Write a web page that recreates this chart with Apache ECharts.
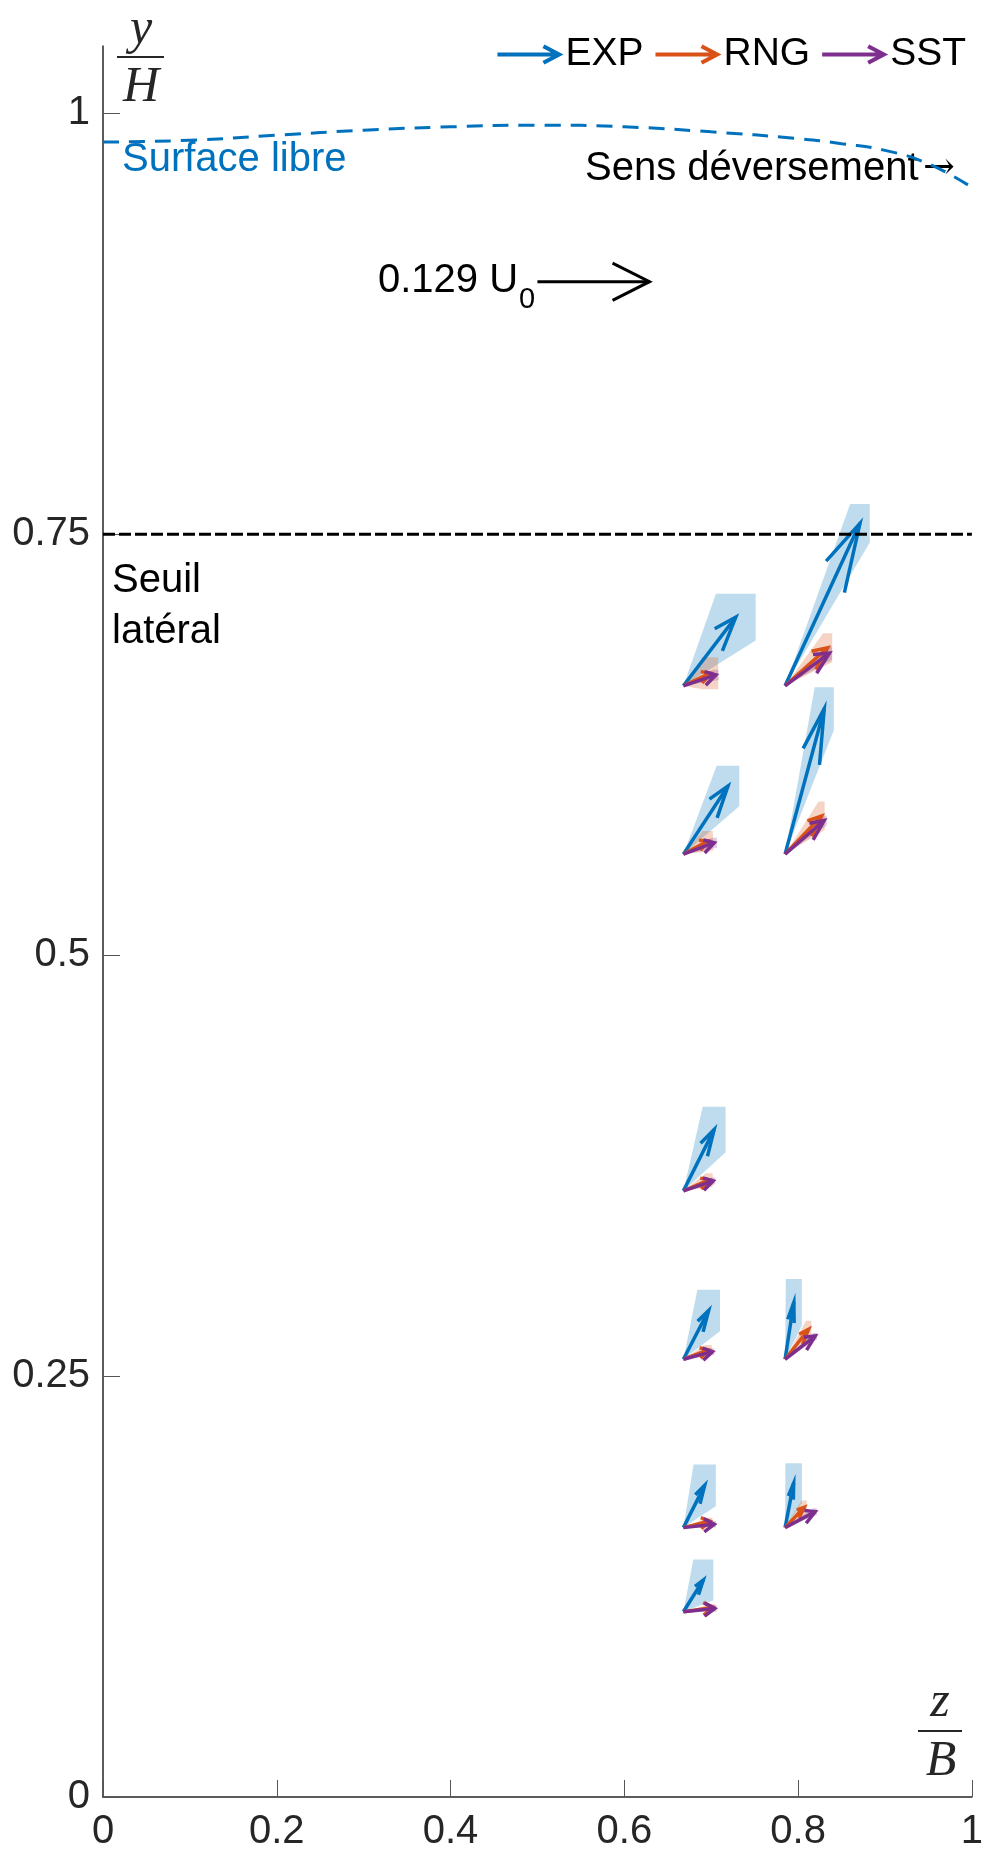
<!DOCTYPE html>
<html><head><meta charset="utf-8">
<script src="https://cdn.jsdelivr.net/npm/echarts@6.0.0/dist/echarts.min.js"></script>
<style>html,body{margin:0;padding:0;background:#fff}#c{width:986px;height:1854px}</style>
</head><body><div id="c"></div>
<script>
// Measurement points (z/B, y/H)
const posZ = [0.668, 0.785, 0.668, 0.785, 0.668, 0.668, 0.785, 0.668, 0.785, 0.668];
const posY = [0.66, 0.66, 0.56, 0.56, 0.36, 0.26, 0.26, 0.16, 0.16, 0.11];

// EXP vectors (components in z/B and y/H units) and uncertainty half-widths
const expU  = [0.0603, 0.0862, 0.0513, 0.0451, 0.0354, 0.0291, 0.0101, 0.0245, 0.0099, 0.0229];
const expV  = [0.0408, 0.0965, 0.0405, 0.0864, 0.0365, 0.0290, 0.0338, 0.0251, 0.0264, 0.0189];
const expEz = [0.0229, 0.0113, 0.0130, 0.0110, 0.0132, 0.0130, 0.0092, 0.0128, 0.0095, 0.0115];
const expEy = [0.0139, 0.0114, 0.0120, 0.0128, 0.0135, 0.0123, 0.0139, 0.0124, 0.0119, 0.0121];

// RNG vectors
const rngU  = [0.0310, 0.0490, 0.0280, 0.0420, 0.0297, 0.0286, 0.0271, 0.0304, 0.0221, 0.0343];
const rngV  = [0.0075, 0.0226, 0.0078, 0.0227, 0.0065, 0.0055, 0.0178, 0.0039, 0.0121, 0.0026];
const rngEz = [0.0090, 0.0052, 0.0060, 0.0035, 0.0040, 0.0040, 0.0030, 0.0030, 0.0030, 0.0020];
const rngEy = [0.0095, 0.0086, 0.0060, 0.0085, 0.0040, 0.0030, 0.0050, 0.0020, 0.0040, 0.0020];

// SST vectors
const sstU  = [0.0374, 0.0511, 0.0355, 0.0450, 0.0343, 0.0335, 0.0347, 0.0355, 0.0347, 0.0361];
const sstV  = [0.0065, 0.0194, 0.0068, 0.0200, 0.0060, 0.0045, 0.0138, 0.0020, 0.0095, 0.0020];
const sstEz = [0.0030, 0.0030, 0.0030, 0.0030, 0.0020, 0.0020, 0.0020, 0.0020, 0.0020, 0.0020];
const sstEy = [0.0030, 0.0040, 0.0030, 0.0030, 0.0020, 0.0020, 0.0020, 0.0020, 0.0020, 0.0020];

// Free surface profile
const surfZ = [0, 0.1, 0.2, 0.3, 0.4, 0.5, 0.6, 0.7, 0.8, 0.85, 0.9, 0.95, 1.0];
const surfY = [0.983, 0.984, 0.987, 0.990, 0.992, 0.993, 0.992, 0.989, 0.985, 0.982, 0.978, 0.970, 0.956];

// Side weir level
const weirZ = [0, 1];
const weirY = [0.75, 0.75];

// Reference vector 0.129 U0
const refVec = [[0.5, 0.9, 0.129, 0]];

const xTicks = [0, 0.2, 0.4, 0.6, 0.8, 1];
const yTicks = [0, 0.25, 0.5, 0.75, 1];

const C_EXP = '#0072BD', C_RNG = '#D95319', C_SST = '#7E2F8E';

function rows(u, v, ez, ey) {
  return posZ.map((z, i) => [z, posY[i], u[i], v[i], ez ? ez[i] : 0, ey ? ey[i] : 0]);
}

function arrowRender(color, w, beta) {
  return function (params, api) {
    const z = api.value(0), y = api.value(1), u = api.value(2), v = api.value(3);
    const a = 0.33, b = beta;
    const p0 = api.coord([z, y]);
    const p1 = api.coord([z + u, y + v]);
    const h1 = api.coord([z + u - a * (u + b * v), y + v - a * (v - b * u)]);
    const h2 = api.coord([z + u - a * (u - b * v), y + v - a * (v + b * u)]);
    return {
      type: 'group', children: [
        { type: 'polyline', shape: { points: [p0, p1] }, style: { stroke: color, lineWidth: w, fill: null } },
        { type: 'polyline', shape: { points: [h1, p1, h2] }, style: { stroke: color, lineWidth: w, fill: null, lineJoin: 'miter' } }
      ]
    };
  };
}

function hull(pts) {
  const p = pts.slice().sort((a, b) => a[0] - b[0] || a[1] - b[1]);
  const cross = (o, a, b) => (a[0] - o[0]) * (b[1] - o[1]) - (a[1] - o[1]) * (b[0] - o[0]);
  const lo = [], up = [];
  for (const q of p) { while (lo.length >= 2 && cross(lo[lo.length - 2], lo[lo.length - 1], q) <= 0) lo.pop(); lo.push(q); }
  for (let i = p.length - 1; i >= 0; i--) { const q = p[i]; while (up.length >= 2 && cross(up[up.length - 2], up[up.length - 1], q) <= 0) up.pop(); up.push(q); }
  up.pop(); lo.pop();
  return lo.concat(up);
}

function zoneRender(fill) {
  return function (params, api) {
    const z = api.value(0), y = api.value(1), u = api.value(2), v = api.value(3), ez = api.value(4), ey = api.value(5);
    const pts = [
      api.coord([z, y]),
      api.coord([z + u - ez, y + v - ey]),
      api.coord([z + u + ez, y + v - ey]),
      api.coord([z + u + ez, y + v + ey]),
      api.coord([z + u - ez, y + v + ey])
    ];
    return { type: 'polygon', shape: { points: hull(pts) }, style: { fill: fill, stroke: null } };
  };
}

const FONT = "'Liberation Sans', Arial, Helvetica, sans-serif";
const SERIF = "'Liberation Serif', 'DejaVu Serif', serif";

const arrowIcon = 'path://M0,8 L53.6,8 L45,3.5 L47,0 L66,10 L47,20 L45,16.5 L53.6,12 L0,12 Z';

const chart = echarts.init(document.getElementById('c'), null, { renderer: 'canvas' });
chart.setOption({
  animation: false,
  backgroundColor: '#fff',
  grid: { left: 103, right: 9, top: 46, bottom: 57, containLabel: false },
  legend: {
    data: ['EXP', 'RNG', 'SST'],
    right: 20, top: 35,
    itemWidth: 66, itemHeight: 20, itemGap: 12,
    icon: arrowIcon,
    padding: 0,
    textStyle: { fontSize: 39, color: '#000', fontFamily: FONT, padding: [0, 0, 0, -3] },
    selectedMode: false
  },
  xAxis: {
    type: 'value', min: 0, max: 1, interval: 0.2,
    axisLine: { show: true, onZero: false, lineStyle: { color: '#262626', width: 1.5 } },
    axisTick: { show: true, inside: true, length: 17, lineStyle: { color: '#555', width: 1 }, customValues: xTicks },
    axisLabel: { fontSize: 40, color: '#262626', fontFamily: FONT, margin: 15, customValues: xTicks },
    splitLine: { show: false }
  },
  yAxis: {
    type: 'value', min: 0, max: 1.04,
    axisLine: { show: true, onZero: false, lineStyle: { color: '#262626', width: 1.5 } },
    axisTick: { show: true, inside: true, length: 17, lineStyle: { color: '#555', width: 1 }, customValues: yTicks },
    axisLabel: { fontSize: 40, color: '#262626', fontFamily: FONT, margin: 13, customValues: yTicks },
    splitLine: { show: false }
  },
  series: [
    { type: 'custom', name: 'EXP zone', silent: true, renderItem: zoneRender('rgba(0,114,189,0.25)'), data: rows(expU, expV, expEz, expEy), encode: { x: 0, y: 1 } },
    { type: 'custom', name: 'RNG zone', silent: true, renderItem: zoneRender('rgba(217,83,25,0.25)'), data: rows(rngU, rngV, rngEz, rngEy), encode: { x: 0, y: 1 } },
    { type: 'custom', name: 'SST zone', silent: true, renderItem: zoneRender('rgba(126,47,142,0.25)'), data: rows(sstU, sstV, sstEz, sstEy), encode: { x: 0, y: 1 } },
    { type: 'line', name: 'Seuil', silent: true, showSymbol: false, data: weirZ.map((z, i) => [z, weirY[i]]), lineStyle: { color: '#000', width: 3, type: [12, 4] } },
    { type: 'line', name: 'Surface', silent: true, showSymbol: false, smooth: true, data: surfZ.map((z, i) => [z, surfY[i]]), lineStyle: { color: C_EXP, width: 3, type: [16, 10] } },
    { type: 'custom', name: 'EXP', silent: true, itemStyle: { color: C_EXP }, renderItem: arrowRender(C_EXP, 3.5, 0.33), data: rows(expU, expV), encode: { x: 0, y: 1 } },
    { type: 'custom', name: 'RNG', silent: true, itemStyle: { color: C_RNG }, renderItem: arrowRender(C_RNG, 3.5, 0.33), data: rows(rngU, rngV), encode: { x: 0, y: 1 } },
    { type: 'custom', name: 'SST', silent: true, itemStyle: { color: C_SST }, renderItem: arrowRender(C_SST, 3.5, 0.33), data: rows(sstU, sstV), encode: { x: 0, y: 1 } },
    { type: 'custom', name: 'ref', silent: true, renderItem: arrowRender('#000', 3, 0.26), data: refVec, encode: { x: 0, y: 1 } }
  ],
  graphic: [
    { type: 'text', x: 122, y: 160, style: { text: 'Surface libre', fill: C_EXP, fontSize: 40, fontFamily: FONT, align: 'left', verticalAlign: 'middle' } },
    { type: 'text', x: 585, y: 169, style: { text: 'Sens déversement', fill: '#000', fontSize: 40, fontFamily: FONT, align: 'left', verticalAlign: 'middle' } },
    { type: 'text', x: 923, y: 169, style: { text: '→', fill: '#000', fontSize: 38, fontFamily: "'DejaVu Serif', serif", align: 'left', verticalAlign: 'middle' } },
    { type: 'text', x: 378, y: 281, style: { text: '0.129 U', fill: '#000', fontSize: 40, fontFamily: FONT, align: 'left', verticalAlign: 'middle' } },
    { type: 'text', x: 519, y: 300, style: { text: '0', fill: '#000', fontSize: 29, fontFamily: FONT, align: 'left', verticalAlign: 'middle' } },
    { type: 'text', x: 112, y: 606, style: { text: 'Seuil\nlatéral', fill: '#000', fontSize: 40, lineHeight: 51, fontFamily: FONT, align: 'left', verticalAlign: 'middle' } },
    { type: 'text', x: 141, y: 30, style: { text: 'y', fill: '#262626', fontSize: 50, fontStyle: 'italic', fontFamily: SERIF, align: 'center', verticalAlign: 'middle' } },
    { type: 'line', shape: { x1: 117, y1: 57, x2: 164, y2: 57 }, style: { stroke: '#262626', lineWidth: 2 } },
    { type: 'text', x: 141, y: 88, style: { text: 'H', fill: '#262626', fontSize: 50, fontStyle: 'italic', fontFamily: SERIF, align: 'center', verticalAlign: 'middle' } },
    { type: 'text', x: 940, y: 1703, style: { text: 'z', fill: '#262626', fontSize: 50, fontStyle: 'italic', fontFamily: SERIF, align: 'center', verticalAlign: 'middle' } },
    { type: 'line', shape: { x1: 918, y1: 1731, x2: 962, y2: 1731 }, style: { stroke: '#262626', lineWidth: 2 } },
    { type: 'text', x: 941, y: 1762, style: { text: 'B', fill: '#262626', fontSize: 50, fontStyle: 'italic', fontFamily: SERIF, align: 'center', verticalAlign: 'middle' } }
  ]
});
</script>
</body></html>
